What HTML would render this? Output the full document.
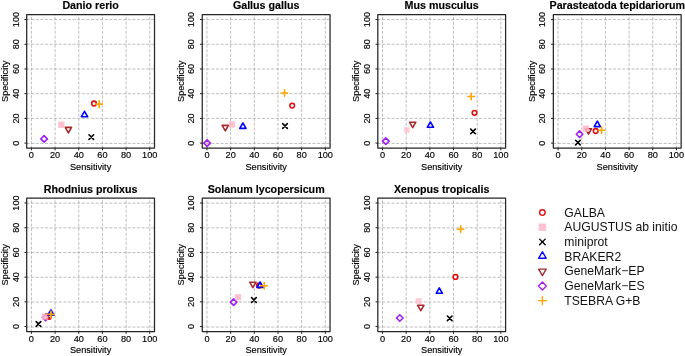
<!DOCTYPE html>
<html><head><meta charset="utf-8"><style>html,body{margin:0;padding:0;background:#fff;}svg{display:block;will-change:transform;}text{font-family:"Liberation Sans",sans-serif;}</style></head>
<body><svg width="685" height="356" viewBox="0 0 685 356" font-family="Liberation Sans, sans-serif">
<rect width="685" height="356" fill="#fff"/>
<g stroke-linecap="round" stroke-linejoin="round">
<g stroke="#949494" stroke-width="0.6" stroke-dasharray="2.3 2.3" fill="none"><path d="M31.43 14.6V148.05M55.1 14.6V148.05M78.77 14.6V148.05M102.43 14.6V148.05M126.1 14.6V148.05M149.77 14.6V148.05" stroke-dashoffset="1.8"/><path d="M26.7 143.46H154.5M26.7 118.39H154.5M26.7 93.68H154.5M26.7 68.97H154.5M26.7 44.26H154.5M26.7 19.54H154.5" stroke-dashoffset="-0.25"/></g>
<path d="M31.43 148.05v1.9M26.7 143.11h-1.9M55.1 148.05v1.9M26.7 118.39h-1.9M78.77 148.05v1.9M26.7 93.68h-1.9M102.43 148.05v1.9M26.7 68.97h-1.9M126.1 148.05v1.9M26.7 44.26h-1.9M149.77 148.05v1.9M26.7 19.54h-1.9" stroke="#222" stroke-width="1" fill="none"/>
<rect x="26.7" y="14.6" width="127.8" height="133.45" fill="none" stroke="#262626" stroke-width="1.25"/>
<g font-size="9.2" fill="#000" stroke="#000" stroke-width="0.15"><text x="31.43" y="158.45" text-anchor="middle">0</text><text transform="translate(18.7 143.11) rotate(-90)" text-anchor="middle">0</text><text x="55.1" y="158.45" text-anchor="middle">20</text><text transform="translate(18.7 118.39) rotate(-90)" text-anchor="middle">20</text><text x="78.77" y="158.45" text-anchor="middle">40</text><text transform="translate(18.7 93.68) rotate(-90)" text-anchor="middle">40</text><text x="102.43" y="158.45" text-anchor="middle">60</text><text transform="translate(18.7 68.97) rotate(-90)" text-anchor="middle">60</text><text x="126.1" y="158.45" text-anchor="middle">80</text><text transform="translate(18.7 44.26) rotate(-90)" text-anchor="middle">80</text><text x="149.77" y="158.45" text-anchor="middle">100</text><text transform="translate(18.7 19.54) rotate(-90)" text-anchor="middle">100</text><text x="90.6" y="169.9" text-anchor="middle">Sensitivity</text><text transform="translate(8 81.33) rotate(-90)" text-anchor="middle">Specificity</text></g>
<text x="90.6" y="9.3" text-anchor="middle" font-size="10.7" font-weight="bold" fill="#000" stroke="#000" stroke-width="0.15">Danio rerio</text>
<path d="M44.1 135.61L47.39 138.9L44.1 142.19L40.81 138.9Z" stroke="#a020f0" stroke-width="1.6" fill="none"/>
<path d="M68.4 132.82L71.53 127.39L65.27 127.39Z" stroke="#a52a2a" stroke-width="1.6" fill="none"/>
<circle cx="94" cy="103.5" r="2.33" fill="none" stroke="#e41010" stroke-width="1.6"/>
<rect x="58.3" y="121.6" width="6.2" height="6.2" fill="#ffb6c6" fill-opacity="0.85" stroke="none"/>
<path d="M88.97 134.78L93.62 139.42M88.97 139.42L93.62 134.78" stroke="#000000" stroke-width="1.6" fill="none"/>
<path d="M84.5 111.28L87.63 116.71L81.37 116.71Z" stroke="#0000ff" stroke-width="1.6" fill="none"/>
<path d="M95.91 104.1H102.49M99.2 100.81V107.39" stroke="#ffa500" stroke-width="1.6" fill="none"/>
<g stroke="#949494" stroke-width="0.6" stroke-dasharray="2.3 2.3" fill="none"><path d="M206.98 14.6V148.05M230.65 14.6V148.05M254.32 14.6V148.05M277.98 14.6V148.05M301.65 14.6V148.05M325.32 14.6V148.05" stroke-dashoffset="1.8"/><path d="M202.25 143.46H330.05M202.25 118.39H330.05M202.25 93.68H330.05M202.25 68.97H330.05M202.25 44.26H330.05M202.25 19.54H330.05" stroke-dashoffset="-0.25"/></g>
<path d="M206.98 148.05v1.9M202.25 143.11h-1.9M230.65 148.05v1.9M202.25 118.39h-1.9M254.32 148.05v1.9M202.25 93.68h-1.9M277.98 148.05v1.9M202.25 68.97h-1.9M301.65 148.05v1.9M202.25 44.26h-1.9M325.32 148.05v1.9M202.25 19.54h-1.9" stroke="#222" stroke-width="1" fill="none"/>
<rect x="202.25" y="14.6" width="127.8" height="133.45" fill="none" stroke="#262626" stroke-width="1.25"/>
<g font-size="9.2" fill="#000" stroke="#000" stroke-width="0.15"><text x="206.98" y="158.45" text-anchor="middle">0</text><text transform="translate(194.25 143.11) rotate(-90)" text-anchor="middle">0</text><text x="230.65" y="158.45" text-anchor="middle">20</text><text transform="translate(194.25 118.39) rotate(-90)" text-anchor="middle">20</text><text x="254.32" y="158.45" text-anchor="middle">40</text><text transform="translate(194.25 93.68) rotate(-90)" text-anchor="middle">40</text><text x="277.98" y="158.45" text-anchor="middle">60</text><text transform="translate(194.25 68.97) rotate(-90)" text-anchor="middle">60</text><text x="301.65" y="158.45" text-anchor="middle">80</text><text transform="translate(194.25 44.26) rotate(-90)" text-anchor="middle">80</text><text x="325.32" y="158.45" text-anchor="middle">100</text><text transform="translate(194.25 19.54) rotate(-90)" text-anchor="middle">100</text><text x="266.15" y="169.9" text-anchor="middle">Sensitivity</text><text transform="translate(183.55 81.33) rotate(-90)" text-anchor="middle">Specificity</text></g>
<text x="266.15" y="9.3" text-anchor="middle" font-size="10.7" font-weight="bold" fill="#000" stroke="#000" stroke-width="0.15">Gallus gallus</text>
<path d="M207.1 139.86L210.39 143.15L207.1 146.44L203.81 143.15Z" stroke="#a020f0" stroke-width="1.6" fill="none"/>
<path d="M225.3 130.82L228.43 125.39L222.17 125.39Z" stroke="#a52a2a" stroke-width="1.6" fill="none"/>
<circle cx="292.2" cy="105.6" r="2.33" fill="none" stroke="#e41010" stroke-width="1.6"/>
<rect x="228.9" y="121.4" width="6.2" height="6.2" fill="#ffb6c6" fill-opacity="0.85" stroke="none"/>
<path d="M282.68 123.67L287.32 128.32M282.68 128.32L287.32 123.67" stroke="#000000" stroke-width="1.6" fill="none"/>
<path d="M242.9 122.98L246.03 128.41L239.77 128.41Z" stroke="#0000ff" stroke-width="1.6" fill="none"/>
<path d="M281.21 93H287.79M284.5 89.71V96.29" stroke="#ffa500" stroke-width="1.6" fill="none"/>
<g stroke="#949494" stroke-width="0.6" stroke-dasharray="2.3 2.3" fill="none"><path d="M382.53 14.6V148.05M406.2 14.6V148.05M429.87 14.6V148.05M453.53 14.6V148.05M477.2 14.6V148.05M500.87 14.6V148.05" stroke-dashoffset="1.8"/><path d="M377.8 143.46H505.6M377.8 118.39H505.6M377.8 93.68H505.6M377.8 68.97H505.6M377.8 44.26H505.6M377.8 19.54H505.6" stroke-dashoffset="-0.25"/></g>
<path d="M382.53 148.05v1.9M377.8 143.11h-1.9M406.2 148.05v1.9M377.8 118.39h-1.9M429.87 148.05v1.9M377.8 93.68h-1.9M453.53 148.05v1.9M377.8 68.97h-1.9M477.2 148.05v1.9M377.8 44.26h-1.9M500.87 148.05v1.9M377.8 19.54h-1.9" stroke="#222" stroke-width="1" fill="none"/>
<rect x="377.8" y="14.6" width="127.8" height="133.45" fill="none" stroke="#262626" stroke-width="1.25"/>
<g font-size="9.2" fill="#000" stroke="#000" stroke-width="0.15"><text x="382.53" y="158.45" text-anchor="middle">0</text><text transform="translate(369.8 143.11) rotate(-90)" text-anchor="middle">0</text><text x="406.2" y="158.45" text-anchor="middle">20</text><text transform="translate(369.8 118.39) rotate(-90)" text-anchor="middle">20</text><text x="429.87" y="158.45" text-anchor="middle">40</text><text transform="translate(369.8 93.68) rotate(-90)" text-anchor="middle">40</text><text x="453.53" y="158.45" text-anchor="middle">60</text><text transform="translate(369.8 68.97) rotate(-90)" text-anchor="middle">60</text><text x="477.2" y="158.45" text-anchor="middle">80</text><text transform="translate(369.8 44.26) rotate(-90)" text-anchor="middle">80</text><text x="500.87" y="158.45" text-anchor="middle">100</text><text transform="translate(369.8 19.54) rotate(-90)" text-anchor="middle">100</text><text x="441.7" y="169.9" text-anchor="middle">Sensitivity</text><text transform="translate(359.1 81.33) rotate(-90)" text-anchor="middle">Specificity</text></g>
<text x="441.7" y="9.3" text-anchor="middle" font-size="10.7" font-weight="bold" fill="#000" stroke="#000" stroke-width="0.15">Mus musculus</text>
<path d="M385.8 137.81L389.09 141.1L385.8 144.39L382.51 141.1Z" stroke="#a020f0" stroke-width="1.6" fill="none"/>
<path d="M412.7 127.62L415.83 122.19L409.57 122.19Z" stroke="#a52a2a" stroke-width="1.6" fill="none"/>
<circle cx="474.5" cy="112.8" r="2.33" fill="none" stroke="#e41010" stroke-width="1.6"/>
<rect x="404.17" y="127.27" width="5.46" height="5.46" fill="#ffb6c6" fill-opacity="0.7" stroke="none"/>
<path d="M470.68 129.08L475.32 133.72M470.68 133.72L475.32 129.08" stroke="#000000" stroke-width="1.6" fill="none"/>
<path d="M430.4 121.88L433.53 127.31L427.27 127.31Z" stroke="#0000ff" stroke-width="1.6" fill="none"/>
<path d="M467.91 96.5H474.49M471.2 93.21V99.79" stroke="#ffa500" stroke-width="1.6" fill="none"/>
<g stroke="#949494" stroke-width="0.6" stroke-dasharray="2.3 2.3" fill="none"><path d="M558.08 14.6V148.05M581.75 14.6V148.05M605.42 14.6V148.05M629.08 14.6V148.05M652.75 14.6V148.05M676.42 14.6V148.05" stroke-dashoffset="1.8"/><path d="M553.35 143.46H681.15M553.35 118.39H681.15M553.35 93.68H681.15M553.35 68.97H681.15M553.35 44.26H681.15M553.35 19.54H681.15" stroke-dashoffset="-0.25"/></g>
<path d="M558.08 148.05v1.9M553.35 143.11h-1.9M581.75 148.05v1.9M553.35 118.39h-1.9M605.42 148.05v1.9M553.35 93.68h-1.9M629.08 148.05v1.9M553.35 68.97h-1.9M652.75 148.05v1.9M553.35 44.26h-1.9M676.42 148.05v1.9M553.35 19.54h-1.9" stroke="#222" stroke-width="1" fill="none"/>
<rect x="553.35" y="14.6" width="127.8" height="133.45" fill="none" stroke="#262626" stroke-width="1.25"/>
<g font-size="9.2" fill="#000" stroke="#000" stroke-width="0.15"><text x="558.08" y="158.45" text-anchor="middle">0</text><text transform="translate(545.35 143.11) rotate(-90)" text-anchor="middle">0</text><text x="581.75" y="158.45" text-anchor="middle">20</text><text transform="translate(545.35 118.39) rotate(-90)" text-anchor="middle">20</text><text x="605.42" y="158.45" text-anchor="middle">40</text><text transform="translate(545.35 93.68) rotate(-90)" text-anchor="middle">40</text><text x="629.08" y="158.45" text-anchor="middle">60</text><text transform="translate(545.35 68.97) rotate(-90)" text-anchor="middle">60</text><text x="652.75" y="158.45" text-anchor="middle">80</text><text transform="translate(545.35 44.26) rotate(-90)" text-anchor="middle">80</text><text x="676.42" y="158.45" text-anchor="middle">100</text><text transform="translate(545.35 19.54) rotate(-90)" text-anchor="middle">100</text><text x="617.25" y="169.9" text-anchor="middle">Sensitivity</text><text transform="translate(534.65 81.33) rotate(-90)" text-anchor="middle">Specificity</text></g>
<text x="617.25" y="9.3" text-anchor="middle" font-size="10.7" font-weight="bold" fill="#000" stroke="#000" stroke-width="0.15">Parasteatoda tepidariorum</text>
<path d="M579.6 130.91L582.89 134.2L579.6 137.49L576.31 134.2Z" stroke="#a020f0" stroke-width="1.6" fill="none"/>
<path d="M588.5 134.12L591.63 128.69L585.37 128.69Z" stroke="#a52a2a" stroke-width="1.6" fill="none"/>
<circle cx="595.7" cy="131" r="2.33" fill="none" stroke="#e41010" stroke-width="1.6"/>
<rect x="582.8" y="125.6" width="6.2" height="6.2" fill="#ffb6c6" fill-opacity="0.85" stroke="none"/>
<path d="M575.57 140.28L580.23 144.92M575.57 144.92L580.23 140.28" stroke="#000000" stroke-width="1.6" fill="none"/>
<path d="M597.3 121.18L600.43 126.61L594.17 126.61Z" stroke="#0000ff" stroke-width="1.6" fill="none"/>
<path d="M598.31 130.2H604.89M601.6 126.91V133.49" stroke="#ffa500" stroke-width="1.6" fill="none"/>
<g stroke="#949494" stroke-width="0.6" stroke-dasharray="2.3 2.3" fill="none"><path d="M31.43 198.05V331.5M55.1 198.05V331.5M78.77 198.05V331.5M102.43 198.05V331.5M126.1 198.05V331.5M149.77 198.05V331.5" stroke-dashoffset="1.8"/><path d="M26.7 327.06H154.5M26.7 301.99H154.5M26.7 277.28H154.5M26.7 252.57H154.5M26.7 227.86H154.5M26.7 203.14H154.5" stroke-dashoffset="-0.25"/></g>
<path d="M31.43 331.5v1.9M26.7 326.56h-1.9M55.1 331.5v1.9M26.7 301.84h-1.9M78.77 331.5v1.9M26.7 277.13h-1.9M102.43 331.5v1.9M26.7 252.42h-1.9M126.1 331.5v1.9M26.7 227.71h-1.9M149.77 331.5v1.9M26.7 202.99h-1.9" stroke="#222" stroke-width="1" fill="none"/>
<rect x="26.7" y="198.05" width="127.8" height="133.45" fill="none" stroke="#262626" stroke-width="1.25"/>
<g font-size="9.2" fill="#000" stroke="#000" stroke-width="0.15"><text x="31.43" y="341.9" text-anchor="middle">0</text><text transform="translate(18.7 326.56) rotate(-90)" text-anchor="middle">0</text><text x="55.1" y="341.9" text-anchor="middle">20</text><text transform="translate(18.7 301.84) rotate(-90)" text-anchor="middle">20</text><text x="78.77" y="341.9" text-anchor="middle">40</text><text transform="translate(18.7 277.13) rotate(-90)" text-anchor="middle">40</text><text x="102.43" y="341.9" text-anchor="middle">60</text><text transform="translate(18.7 252.42) rotate(-90)" text-anchor="middle">60</text><text x="126.1" y="341.9" text-anchor="middle">80</text><text transform="translate(18.7 227.71) rotate(-90)" text-anchor="middle">80</text><text x="149.77" y="341.9" text-anchor="middle">100</text><text transform="translate(18.7 202.99) rotate(-90)" text-anchor="middle">100</text><text x="90.6" y="353.35" text-anchor="middle">Sensitivity</text><text transform="translate(8 264.77) rotate(-90)" text-anchor="middle">Specificity</text></g>
<text x="90.6" y="192.75" text-anchor="middle" font-size="10.7" font-weight="bold" fill="#000" stroke="#000" stroke-width="0.15">Rhodnius prolixus</text>
<path d="M45.6 314.11L48.89 317.4L45.6 320.69L42.31 317.4Z" stroke="#a020f0" stroke-width="1.6" fill="none"/>
<path d="M49.5 319.12L52.63 313.69L46.37 313.69Z" stroke="#a52a2a" stroke-width="1.6" fill="none"/>
<circle cx="48.9" cy="316.8" r="2.33" fill="none" stroke="#e41010" stroke-width="1.6"/>
<rect x="42" y="313.5" width="6.2" height="6.2" fill="#ffb6c6" fill-opacity="0.85" stroke="none"/>
<path d="M36.17 321.68L40.83 326.32M36.17 326.32L40.83 321.68" stroke="#000000" stroke-width="1.6" fill="none"/>
<path d="M50.9 309.78L54.03 315.21L47.77 315.21Z" stroke="#0000ff" stroke-width="1.6" fill="none"/>
<path d="M47.61 314.4H54.19M50.9 311.11V317.69" stroke="#ffa500" stroke-width="1.6" fill="none"/>
<g stroke="#949494" stroke-width="0.6" stroke-dasharray="2.3 2.3" fill="none"><path d="M206.98 198.05V331.5M230.65 198.05V331.5M254.32 198.05V331.5M277.98 198.05V331.5M301.65 198.05V331.5M325.32 198.05V331.5" stroke-dashoffset="1.8"/><path d="M202.25 327.06H330.05M202.25 301.99H330.05M202.25 277.28H330.05M202.25 252.57H330.05M202.25 227.86H330.05M202.25 203.14H330.05" stroke-dashoffset="-0.25"/></g>
<path d="M206.98 331.5v1.9M202.25 326.56h-1.9M230.65 331.5v1.9M202.25 301.84h-1.9M254.32 331.5v1.9M202.25 277.13h-1.9M277.98 331.5v1.9M202.25 252.42h-1.9M301.65 331.5v1.9M202.25 227.71h-1.9M325.32 331.5v1.9M202.25 202.99h-1.9" stroke="#222" stroke-width="1" fill="none"/>
<rect x="202.25" y="198.05" width="127.8" height="133.45" fill="none" stroke="#262626" stroke-width="1.25"/>
<g font-size="9.2" fill="#000" stroke="#000" stroke-width="0.15"><text x="206.98" y="341.9" text-anchor="middle">0</text><text transform="translate(194.25 326.56) rotate(-90)" text-anchor="middle">0</text><text x="230.65" y="341.9" text-anchor="middle">20</text><text transform="translate(194.25 301.84) rotate(-90)" text-anchor="middle">20</text><text x="254.32" y="341.9" text-anchor="middle">40</text><text transform="translate(194.25 277.13) rotate(-90)" text-anchor="middle">40</text><text x="277.98" y="341.9" text-anchor="middle">60</text><text transform="translate(194.25 252.42) rotate(-90)" text-anchor="middle">60</text><text x="301.65" y="341.9" text-anchor="middle">80</text><text transform="translate(194.25 227.71) rotate(-90)" text-anchor="middle">80</text><text x="325.32" y="341.9" text-anchor="middle">100</text><text transform="translate(194.25 202.99) rotate(-90)" text-anchor="middle">100</text><text x="266.15" y="353.35" text-anchor="middle">Sensitivity</text><text transform="translate(183.55 264.77) rotate(-90)" text-anchor="middle">Specificity</text></g>
<text x="266.15" y="192.75" text-anchor="middle" font-size="10.7" font-weight="bold" fill="#000" stroke="#000" stroke-width="0.15">Solanum lycopersicum</text>
<path d="M233.6 298.81L236.89 302.1L233.6 305.39L230.31 302.1Z" stroke="#a020f0" stroke-width="1.6" fill="none"/>
<path d="M252.85 287.62L255.98 282.19L249.72 282.19Z" stroke="#a52a2a" stroke-width="1.6" fill="none"/>
<circle cx="259" cy="285.5" r="2.33" fill="none" stroke="#e41010" stroke-width="1.6"/>
<rect x="234.9" y="294.2" width="6.2" height="6.2" fill="#ffb6c6" fill-opacity="0.85" stroke="none"/>
<path d="M251.58 297.68L256.23 302.32M251.58 302.32L256.23 297.68" stroke="#000000" stroke-width="1.6" fill="none"/>
<path d="M260.1 281.98L263.23 287.41L256.97 287.41Z" stroke="#0000ff" stroke-width="1.6" fill="none"/>
<path d="M260.91 285.8H267.49M264.2 282.51V289.09" stroke="#ffa500" stroke-width="1.6" fill="none"/>
<g stroke="#949494" stroke-width="0.6" stroke-dasharray="2.3 2.3" fill="none"><path d="M382.53 198.05V331.5M406.2 198.05V331.5M429.87 198.05V331.5M453.53 198.05V331.5M477.2 198.05V331.5M500.87 198.05V331.5" stroke-dashoffset="1.8"/><path d="M377.8 327.06H505.6M377.8 301.99H505.6M377.8 277.28H505.6M377.8 252.57H505.6M377.8 227.86H505.6M377.8 203.14H505.6" stroke-dashoffset="-0.25"/></g>
<path d="M382.53 331.5v1.9M377.8 326.56h-1.9M406.2 331.5v1.9M377.8 301.84h-1.9M429.87 331.5v1.9M377.8 277.13h-1.9M453.53 331.5v1.9M377.8 252.42h-1.9M477.2 331.5v1.9M377.8 227.71h-1.9M500.87 331.5v1.9M377.8 202.99h-1.9" stroke="#222" stroke-width="1" fill="none"/>
<rect x="377.8" y="198.05" width="127.8" height="133.45" fill="none" stroke="#262626" stroke-width="1.25"/>
<g font-size="9.2" fill="#000" stroke="#000" stroke-width="0.15"><text x="382.53" y="341.9" text-anchor="middle">0</text><text transform="translate(369.8 326.56) rotate(-90)" text-anchor="middle">0</text><text x="406.2" y="341.9" text-anchor="middle">20</text><text transform="translate(369.8 301.84) rotate(-90)" text-anchor="middle">20</text><text x="429.87" y="341.9" text-anchor="middle">40</text><text transform="translate(369.8 277.13) rotate(-90)" text-anchor="middle">40</text><text x="453.53" y="341.9" text-anchor="middle">60</text><text transform="translate(369.8 252.42) rotate(-90)" text-anchor="middle">60</text><text x="477.2" y="341.9" text-anchor="middle">80</text><text transform="translate(369.8 227.71) rotate(-90)" text-anchor="middle">80</text><text x="500.87" y="341.9" text-anchor="middle">100</text><text transform="translate(369.8 202.99) rotate(-90)" text-anchor="middle">100</text><text x="441.7" y="353.35" text-anchor="middle">Sensitivity</text><text transform="translate(359.1 264.77) rotate(-90)" text-anchor="middle">Specificity</text></g>
<text x="441.7" y="192.75" text-anchor="middle" font-size="10.7" font-weight="bold" fill="#000" stroke="#000" stroke-width="0.15">Xenopus tropicalis</text>
<path d="M399.8 314.71L403.09 318L399.8 321.29L396.51 318Z" stroke="#a020f0" stroke-width="1.6" fill="none"/>
<path d="M420.8 310.72L423.93 305.29L417.67 305.29Z" stroke="#a52a2a" stroke-width="1.6" fill="none"/>
<circle cx="455.5" cy="276.9" r="2.33" fill="none" stroke="#e41010" stroke-width="1.6"/>
<rect x="415.72" y="298.02" width="5.95" height="5.95" fill="#ffb6c6" fill-opacity="0.7" stroke="none"/>
<path d="M447.38 315.98L452.02 320.62M447.38 320.62L452.02 315.98" stroke="#000000" stroke-width="1.6" fill="none"/>
<path d="M439.3 287.88L442.43 293.31L436.17 293.31Z" stroke="#0000ff" stroke-width="1.6" fill="none"/>
<path d="M457.31 229.2H463.89M460.6 225.91V232.49" stroke="#ffa500" stroke-width="1.6" fill="none"/>
<circle cx="542.4" cy="212.55" r="2.79" fill="none" stroke="#e41010" stroke-width="1.4"/>
<text x="564.3" y="216.65" font-size="12.2" fill="#111">GALBA</text>
<rect x="538.68" y="223.51" width="7.44" height="7.44" fill="#ffb6c6" fill-opacity="0.85" stroke="none"/>
<text x="564.3" y="231.33" font-size="12.2" fill="#111">AUGUSTUS ab initio</text>
<path d="M539.61 239.12L545.19 244.7M539.61 244.7L545.19 239.12" stroke="#000000" stroke-width="1.4" fill="none"/>
<text x="564.3" y="246.01" font-size="12.2" fill="#111">miniprot</text>
<path d="M542.4 251.75L546.16 258.26L538.64 258.26Z" stroke="#0000ff" stroke-width="1.4" fill="none"/>
<text x="564.3" y="260.69" font-size="12.2" fill="#111">BRAKER2</text>
<path d="M542.4 275.61L546.16 269.1L538.64 269.1Z" stroke="#a52a2a" stroke-width="1.4" fill="none"/>
<text x="564.3" y="275.37" font-size="12.2" fill="#111">GeneMark−EP</text>
<path d="M542.4 282L546.35 285.95L542.4 289.9L538.45 285.95Z" stroke="#a020f0" stroke-width="1.4" fill="none"/>
<text x="564.3" y="290.05" font-size="12.2" fill="#111">GeneMark−ES</text>
<path d="M538.45 300.63H546.35M542.4 296.68V304.58" stroke="#ffa500" stroke-width="1.4" fill="none"/>
<text x="564.3" y="304.73" font-size="12.2" fill="#111">TSEBRA G+B</text>
</g></svg></body></html>
